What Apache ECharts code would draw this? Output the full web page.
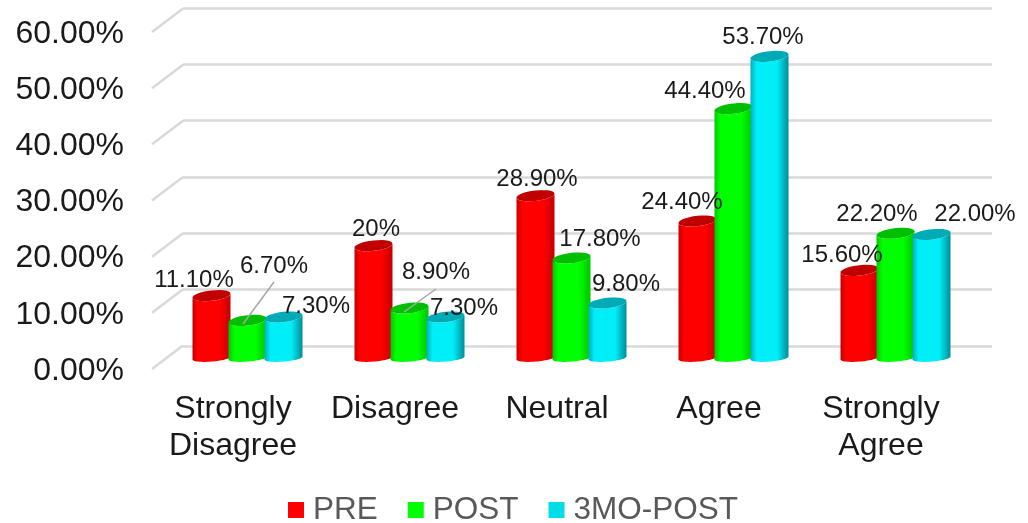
<!DOCTYPE html>
<html>
<head>
<meta charset="utf-8">
<style>html,body{margin:0;padding:0;background:#fff}#chart{width:1028px;height:523px}</style>
<script src="https://cdn.jsdelivr.net/npm/echarts@6/dist/echarts.min.js"></script>
</head>
<body>
<div id="chart"></div>
<script>
// Survey responses, percent of respondents
const categories = ['Strongly\nDisagree', 'Disagree', 'Neutral', 'Agree', 'Strongly\nAgree'];
const pre = [11.1, 20, 28.9, 24.4, 15.6];
const post = [6.7, 8.9, 17.8, 44.4, 22.2];
const threeMonthPost = [7.3, 7.3, 9.8, 53.7, 22.0];
const percentTicks = [0, 10, 20, 30, 40, 50, 60];

// Where each value label sits relative to the top of its cylinder
const preLabelShift = [[-17.5, -15.7], [2.5, -16.7], [1.5, -16.7], [-15.5, -19], [-17.5, -15.4]];
const postLabelShift = [[26.5, -54.4], [26.5, -36], [28.5, -19], [-28.5, -17.6], [-18.5, -19.3]];
const threeMoLabelShift = [[32.5, -11], [18.5, -9], [18.5, -19], [-6.5, -19.4], [43.5, -20.4]];
// Leader lines for the two labels lifted away from their bars: [x1, y1, x2, y2]
const postLeaders = [[26.5, -38.4, -4.5, 3.6], [26.5, -19, -5.5, 4], null, null, null];

const FONT = '"Liberation Sans", Arial, sans-serif';
const INK = '#1a1a1a';
const DEPTH_X = 31, DEPTH_Y = 23.5;      // wall sits this far behind the front plane
const BAR_SHIFT_X = 14.5, BAR_SHIFT_Y = 11; // cylinders stand mid-way on the floor
const BAR_STEP = 36, RX = 19;

const fixedPercent = v => v.toFixed(2) + '%';
// The PRE series prints whole numbers without decimals
const trimmedPercent = v => Number.isInteger(v) ? v + '%' : fixedPercent(v);

// Sheared ellipse arc; a negative lift raises the right-hand side
function arc(cx, cy, ry, lift, from, to) {
  const pts = [];
  const n = 28;
  for (let i = 0; i <= n; i++) {
    const t = from + (to - from) * i / n;
    pts.push([cx + RX * Math.cos(t), cy + ry * Math.sin(t) + lift * Math.cos(t)]);
  }
  return pts;
}

function cylinderSeries(name, values, slot, colors, labelShift, leaders, formatValue) {
  return {
    name,
    type: 'custom',
    xAxisIndex: 1,
    yAxisIndex: 1,
    clip: false,
    silent: true,
    itemStyle: { color: colors.swatch },
    data: values.map((v, i) => [i, v]),
    encode: { x: 0, y: 1 },
    renderItem(params, api) {
      const i = api.value(0), v = api.value(1);
      const top = api.coord([i, v]);
      const base = api.coord([i, 0]);
      const cx = top[0] + BAR_SHIFT_X + slot * BAR_STEP;
      const topY = top[1] - BAR_SHIFT_Y;
      const baseY = base[1] - BAR_SHIFT_Y;
      const body = arc(cx, baseY, 3.6, -1.5, Math.PI, 0)
        .concat(arc(cx, topY, 5.2, -2, 0, Math.PI));
      const children = [
        {
          type: 'polygon',
          shape: { points: body },
          style: {
            fill: new echarts.graphic.LinearGradient(0, 0, 1, 0, [
              { offset: 0, color: colors.edgeL },
              { offset: 0.16, color: colors.face },
              { offset: 0.7, color: colors.face },
              { offset: 1, color: colors.edgeR }
            ])
          }
        },
        {
          type: 'polygon',
          shape: { points: arc(cx, topY, 5.2, -2, 0, Math.PI * 2) },
          style: { fill: colors.cap }
        }
      ];
      const leader = leaders && leaders[i];
      if (leader) {
        children.push({
          type: 'line',
          z2: 50,
          shape: { x1: cx + leader[0], y1: topY + leader[1], x2: cx + leader[2], y2: topY + leader[3] },
          style: { stroke: '#a6a6a6', lineWidth: 1.5 }
        });
      }
      children.push({
        type: 'text',
        z2: 100,
        style: {
          text: formatValue(v),
          x: cx + labelShift[i][0],
          y: topY + labelShift[i][1],
          align: 'center',
          verticalAlign: 'middle',
          font: '24px ' + FONT,
          fill: INK
        }
      });
      return { type: 'group', children };
    }
  };
}

// Slanted floor-to-wall edges joining each axis tick to its gridline
const depthEdges = {
  type: 'custom',
  xAxisIndex: 1,
  yAxisIndex: 1,
  clip: false,
  silent: true,
  z: 1,
  data: percentTicks.map(t => [0, t]),
  encode: { x: 0, y: 1 },
  renderItem(params, api) {
    const y = api.coord([0, api.value(1)])[1];
    const x = params.coordSys.x;
    return {
      type: 'line',
      shape: { x1: x, y1: y, x2: x + DEPTH_X, y2: y - DEPTH_Y },
      style: { stroke: '#d9d9d9', lineWidth: 2.5 }
    };
  }
};

const chart = echarts.init(document.getElementById('chart'), null, { renderer: 'canvas' });
chart.setOption({
  animation: false,
  backgroundColor: '#fff',
  textStyle: { fontFamily: FONT },
  legend: {
    data: ['PRE', 'POST', '3MO-POST'],
    left: 288,
    top: 494,
    padding: 0,
    icon: 'rect',
    itemWidth: 16,
    itemHeight: 16,
    itemGap: 30,
    selectedMode: false,
    textStyle: { fontSize: 31.5, fontFamily: FONT, color: '#595959', padding: [0, 0, 0, 4] }
  },
  grid: [
    { left: 183, right: 36, top: 8, height: 338 },
    { left: 152, width: 810, top: 32, height: 337 }
  ],
  xAxis: [
    { gridIndex: 0, type: 'category', data: categories, show: false },
    {
      gridIndex: 1,
      type: 'category',
      data: categories,
      axisLine: { show: false },
      axisTick: { show: false },
      axisLabel: { fontSize: 32, fontFamily: FONT, color: INK, margin: 22, lineHeight: 37, interval: 0 }
    }
  ],
  yAxis: [
    {
      gridIndex: 0,
      type: 'value',
      min: 0,
      max: 60,
      interval: 10,
      axisLine: { show: false },
      axisTick: { show: false },
      axisLabel: { show: false },
      splitLine: { lineStyle: { color: '#d9d9d9', width: 2.5 } }
    },
    {
      gridIndex: 1,
      type: 'value',
      min: 0,
      max: 60,
      interval: 10,
      axisLine: { show: false },
      axisTick: { show: false },
      splitLine: { show: false },
      axisLabel: {
        fontSize: 32,
        fontFamily: FONT,
        color: INK,
        margin: 28,
        verticalAlign: 'top',
        padding: [-14, 0, 0, 0],
        formatter: fixedPercent
      }
    }
  ],
  series: [
    depthEdges,
    cylinderSeries('PRE', pre, -1,
      { swatch: '#ff0000', face: '#ff0000', edgeL: '#c80000', edgeR: '#c40000', cap: '#c00000' },
      preLabelShift, null, trimmedPercent),
    cylinderSeries('POST', post, 0,
      { swatch: '#00ff00', face: '#00ff00', edgeL: '#00c800', edgeR: '#00c400', cap: '#00bf00' },
      postLabelShift, postLeaders, fixedPercent),
    cylinderSeries('3MO-POST', threeMonthPost, 1,
      { swatch: '#00dde8', face: '#00eef8', edgeL: '#00b0ba', edgeR: '#008d98', cap: '#00abb6' },
      threeMoLabelShift, null, fixedPercent)
  ]
});
</script>
</body>
</html>
